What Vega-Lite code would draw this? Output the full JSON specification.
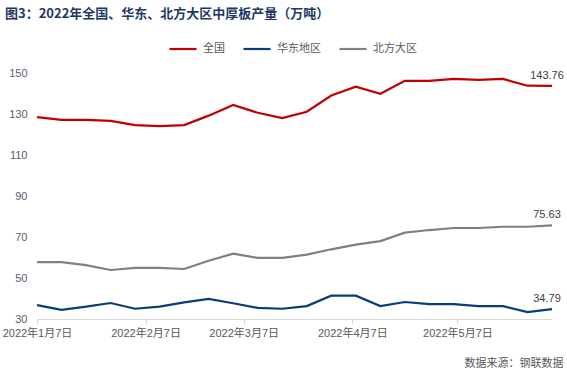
{
  "$schema": "https://vega.github.io/schema/vega-lite/v6.json",
  "width": 515,
  "height": 246,
  "autosize": {"type": "none"},
  "padding": {"left": 37, "top": 73, "right": 15, "bottom": 59},
  "background": "white",
  "title": {
    "text": "图3：2022年全国、华东、北方大区中厚板产量（万吨）",
    "anchor": "start",
    "frame": "group",
    "dx": -32,
    "offset": 13,
    "fontSize": 13,
    "font": "Noto Sans CJK SC",
    "fontWeight": "bold",
    "color": "#1F3864"
  },
  "config": {
    "view": {"stroke": null},
    "font": "Liberation Sans, Noto Sans CJK SC"
  },
  "data": {
    "values": [
      {"date": "2022-01-07", "series": "全国", "value": 128.5},
      {"date": "2022-01-14", "series": "全国", "value": 127.1},
      {"date": "2022-01-21", "series": "全国", "value": 127.1},
      {"date": "2022-01-28", "series": "全国", "value": 126.6},
      {"date": "2022-02-04", "series": "全国", "value": 124.6},
      {"date": "2022-02-11", "series": "全国", "value": 124.1},
      {"date": "2022-02-18", "series": "全国", "value": 124.6},
      {"date": "2022-02-25", "series": "全国", "value": 129.2},
      {"date": "2022-03-04", "series": "全国", "value": 134.4},
      {"date": "2022-03-11", "series": "全国", "value": 130.6},
      {"date": "2022-03-18", "series": "全国", "value": 128.0},
      {"date": "2022-03-25", "series": "全国", "value": 131.1},
      {"date": "2022-04-01", "series": "全国", "value": 139.0},
      {"date": "2022-04-08", "series": "全国", "value": 143.3},
      {"date": "2022-04-15", "series": "全国", "value": 139.9},
      {"date": "2022-04-22", "series": "全国", "value": 146.2},
      {"date": "2022-04-29", "series": "全国", "value": 146.2},
      {"date": "2022-05-06", "series": "全国", "value": 147.1},
      {"date": "2022-05-13", "series": "全国", "value": 146.6},
      {"date": "2022-05-20", "series": "全国", "value": 147.1},
      {"date": "2022-05-27", "series": "全国", "value": 143.8},
      {"date": "2022-06-03", "series": "全国", "value": 143.76},
      {"date": "2022-01-07", "series": "华东地区", "value": 36.8},
      {"date": "2022-01-14", "series": "华东地区", "value": 34.5},
      {"date": "2022-01-21", "series": "华东地区", "value": 36.0},
      {"date": "2022-01-28", "series": "华东地区", "value": 37.8},
      {"date": "2022-02-04", "series": "华东地区", "value": 35.0},
      {"date": "2022-02-11", "series": "华东地区", "value": 36.0},
      {"date": "2022-02-18", "series": "华东地区", "value": 38.1},
      {"date": "2022-02-25", "series": "华东地区", "value": 39.8},
      {"date": "2022-03-04", "series": "华东地区", "value": 37.7},
      {"date": "2022-03-11", "series": "华东地区", "value": 35.4},
      {"date": "2022-03-18", "series": "华东地区", "value": 35.0},
      {"date": "2022-03-25", "series": "华东地区", "value": 36.3},
      {"date": "2022-04-01", "series": "华东地区", "value": 41.4},
      {"date": "2022-04-08", "series": "华东地区", "value": 41.4},
      {"date": "2022-04-15", "series": "华东地区", "value": 36.3},
      {"date": "2022-04-22", "series": "华东地区", "value": 38.3},
      {"date": "2022-04-29", "series": "华东地区", "value": 37.3},
      {"date": "2022-05-06", "series": "华东地区", "value": 37.3},
      {"date": "2022-05-13", "series": "华东地区", "value": 36.3},
      {"date": "2022-05-20", "series": "华东地区", "value": 36.3},
      {"date": "2022-05-27", "series": "华东地区", "value": 33.4},
      {"date": "2022-06-03", "series": "华东地区", "value": 34.79},
      {"date": "2022-01-07", "series": "北方大区", "value": 57.7},
      {"date": "2022-01-14", "series": "北方大区", "value": 57.7},
      {"date": "2022-01-21", "series": "北方大区", "value": 56.3},
      {"date": "2022-01-28", "series": "北方大区", "value": 53.9},
      {"date": "2022-02-04", "series": "北方大区", "value": 54.9},
      {"date": "2022-02-11", "series": "北方大区", "value": 54.9},
      {"date": "2022-02-18", "series": "北方大区", "value": 54.4},
      {"date": "2022-02-25", "series": "北方大区", "value": 58.4},
      {"date": "2022-03-04", "series": "北方大区", "value": 61.9},
      {"date": "2022-03-11", "series": "北方大区", "value": 59.8},
      {"date": "2022-03-18", "series": "北方大区", "value": 59.8},
      {"date": "2022-03-25", "series": "北方大区", "value": 61.4},
      {"date": "2022-04-01", "series": "北方大区", "value": 64.0},
      {"date": "2022-04-08", "series": "北方大区", "value": 66.3},
      {"date": "2022-04-15", "series": "北方大区", "value": 68.0},
      {"date": "2022-04-22", "series": "北方大区", "value": 72.1},
      {"date": "2022-04-29", "series": "北方大区", "value": 73.4},
      {"date": "2022-05-06", "series": "北方大区", "value": 74.4},
      {"date": "2022-05-13", "series": "北方大区", "value": 74.4},
      {"date": "2022-05-20", "series": "北方大区", "value": 75.0},
      {"date": "2022-05-27", "series": "北方大区", "value": 75.0},
      {"date": "2022-06-03", "series": "北方大区", "value": 75.63}
    ]
  },
  "encoding": {
    "x": {
      "field": "date",
      "type": "temporal",
      "scale": {
        "type": "utc",
        "domain": [
          {"year": 2022, "month": 1, "date": 7, "utc": true},
          {"year": 2022, "month": 6, "date": 3, "utc": true}
        ]
      },
      "axis": {
        "values": [
          {"year": 2022, "month": 1, "date": 7, "utc": true},
          {"year": 2022, "month": 2, "date": 7, "utc": true},
          {"year": 2022, "month": 3, "date": 7, "utc": true},
          {"year": 2022, "month": 4, "date": 7, "utc": true},
          {"year": 2022, "month": 5, "date": 7, "utc": true}
        ],
        "labelExpr": "utcFormat(datum.value, '%Y') + '年' + (utcmonth(datum.value) + 1) + '月' + utcdate(datum.value) + '日'",
        "labelFlush": false,
        "labelOverlap": false,
        "labelBound": false,
        "grid": false,
        "domainColor": "#D9D9D9",
        "tickColor": "#D9D9D9",
        "tickSize": 5,
        "labelColor": "#595959",
        "labelFontSize": 11,
        "labelPadding": 3,
        "title": "数据来源：钢联数据",
        "titleAnchor": "end",
        "titleAlign": "right",
        "titleX": 526,
        "titleY": 38,
        "titleFontWeight": "normal",
        "titleFontSize": 11,
        "titleColor": "#595959",
        "titleFont": "Noto Sans CJK SC"
      }
    },
    "y": {
      "field": "value",
      "type": "quantitative",
      "scale": {"domain": [30, 150], "nice": false, "zero": false},
      "axis": {
        "values": [30, 50, 70, 90, 110, 130, 150],
        "domain": false,
        "ticks": false,
        "grid": false,
        "labelPadding": 10,
        "labelColor": "#56606E",
        "labelFontSize": 11,
        "title": null
      }
    },
    "color": {
      "field": "series",
      "type": "nominal",
      "scale": {
        "domain": ["全国", "华东地区", "北方大区"],
        "range": ["#C00000", "#073E78", "#808080"]
      },
      "legend": {
        "orient": "none",
        "legendX": 131,
        "legendY": -39,
        "direction": "horizontal",
        "title": null,
        "symbolType": "stroke",
        "symbolStrokeWidth": 2.2,
        "symbolSize": 729,
        "labelFontSize": 11,
        "labelColor": "#595959",
        "labelFont": "Noto Sans CJK SC",
        "columnPadding": 14,
        "labelOffset": 5
      }
    }
  },
  "layer": [
    {"mark": {"type": "line", "strokeWidth": 2.2}},
    {
      "transform": [{"filter": "utcdate(datum.date) == 3 && utcmonth(datum.date) == 5"}],
      "mark": {"type": "text", "align": "center", "baseline": "bottom", "dx": -5, "dy": -5, "fontSize": 11},
      "encoding": {
        "text": {"field": "value", "type": "quantitative", "format": ".2f"},
        "color": {"value": "#404040"}
      }
    }
  ]
}
